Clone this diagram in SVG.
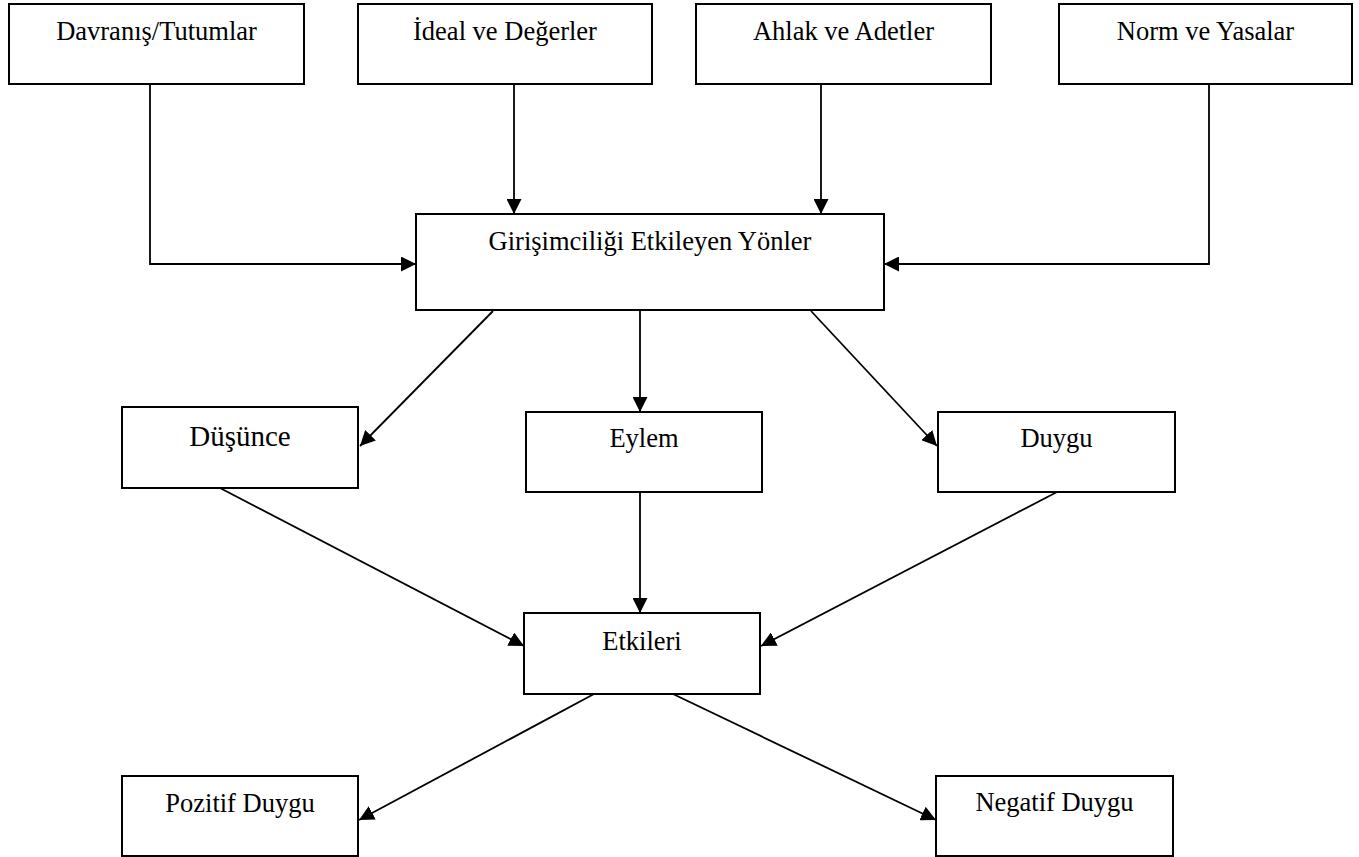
<svg xmlns="http://www.w3.org/2000/svg" width="1359" height="857" viewBox="0 0 1359 857">
<style>
.box{fill:#fff;stroke:#000;stroke-width:2}
.t{font-family:"Liberation Serif","Times New Roman",serif;font-size:26.5px;fill:#000;text-anchor:middle}
.c{fill:none;stroke:#000;stroke-width:1.8;marker-end:url(#arr)}
</style>
<defs>
<marker id="arr" markerWidth="16" markerHeight="15" refX="15" refY="7.5" orient="auto" markerUnits="userSpaceOnUse">
<path d="M0,0 L15,7.5 L0,15 z" fill="#000"/>
</marker>
</defs>
<rect width="1359" height="857" fill="#fff"/>
<g id="connectors">
<path class="c" d="M150,84 V264 H416"/>
<path class="c" d="M514,84 V214"/>
<path class="c" d="M821,84 V214"/>
<path class="c" d="M1209,84 V264 H884"/>
<path class="c" d="M493,311 L360,446"/>
<path class="c" d="M640,311 V412"/>
<path class="c" d="M811,311 L937,446"/>
<path class="c" d="M220,488 L524,646"/>
<path class="c" d="M640,492 V613"/>
<path class="c" d="M1057,492 L761,646"/>
<path class="c" d="M594,694 L359,820"/>
<path class="c" d="M673,694 L936,820"/>
</g>
<g id="n1"><rect class="box" x="9" y="4" width="295" height="80"/><text class="t" x="156.5" y="40">Davranış/Tutumlar</text></g>
<g id="n2"><rect class="box" x="358" y="4" width="294" height="80"/><text class="t" x="505" y="40">İdeal ve Değerler</text></g>
<g id="n3"><rect class="box" x="696" y="4" width="295" height="80"/><text class="t" x="843.5" y="40">Ahlak ve Adetler</text></g>
<g id="n4"><rect class="box" x="1059" y="4" width="293" height="80"/><text class="t" x="1205.5" y="40">Norm ve Yasalar</text></g>
<g id="center"><rect class="box" x="416" y="214" width="468" height="96"/><text class="t" x="650" y="250">Girişimciliği Etkileyen Yönler</text></g>
<g id="dusunce"><rect class="box" x="122" y="407" width="236" height="81"/><text class="t" x="240" y="446" style="font-size:29px">Düşünce</text></g>
<g id="eylem"><rect class="box" x="526" y="412" width="236" height="80"/><text class="t" x="644" y="447">Eylem</text></g>
<g id="duygu"><rect class="box" x="938" y="412" width="237" height="80"/><text class="t" x="1056.5" y="447">Duygu</text></g>
<g id="etkileri"><rect class="box" x="524" y="613" width="236" height="81"/><text class="t" x="642" y="650">Etkileri</text></g>
<g id="pozitif"><rect class="box" x="122" y="776" width="236" height="80"/><text class="t" x="240" y="812">Pozitif Duygu</text></g>
<g id="negatif"><rect class="box" x="936" y="776" width="237" height="80"/><text class="t" x="1054.5" y="811">Negatif Duygu</text></g>
</svg>
